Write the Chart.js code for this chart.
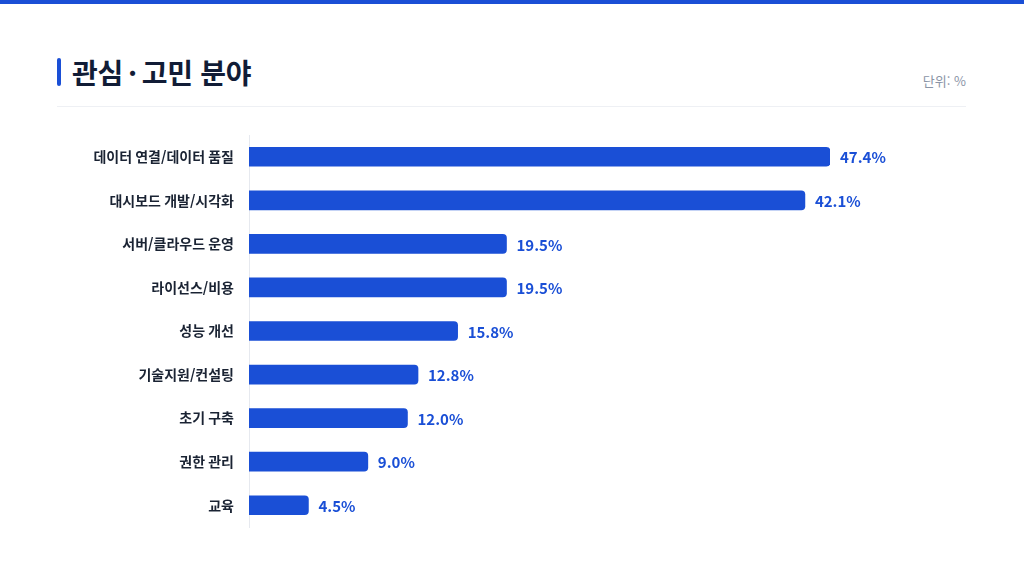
<!DOCTYPE html>
<html lang="ko">
<head>
<meta charset="utf-8">
<script src="https://cdn.jsdelivr.net/npm/chart.js@4"></script>
<style>
  html, body { margin:0; padding:0; background:#fff; }
  body { width:1024px; height:576px; position:relative; overflow:hidden; font-family:"Noto Sans CJK KR","Noto Sans",sans-serif; }
  .topbar { position:absolute; left:0; top:0; width:1024px; height:4px; background:#1a4fd6; }
  .accent { position:absolute; left:57px; top:58px; width:4px; height:28px; background:#1a4fd6; border-radius:2px; }
  .title { position:absolute; left:72px; top:52px; font-size:28px; font-weight:700; color:#111c36; line-height:40px; letter-spacing:-0.3px; }
  .title .dot { margin:0 5px; }
  .unit { position:absolute; right:58px; top:72px; font-size:13px; color:#8a94a6; line-height:18px; }
  .divider { position:absolute; left:57px; top:106px; width:909px; height:1px; background:#eef0f4; }
  .wrap { position:absolute; left:0; top:0; width:1024px; height:576px; }
</style>
</head>
<body>
<div class="topbar"></div>
<div class="accent"></div>
<div class="title">관심<span class="dot">·</span>고민 분야</div>
<div class="unit">단위: %</div>
<div class="divider"></div>
<div class="wrap"><canvas id="c"></canvas></div>
<script>
const categories = ["데이터 연결/데이터 품질","대시보드 개발/시각화","서버/클라우드 운영","라이선스/비용","성능 개선","기술지원/컨설팅","초기 구축","권한 관리","교육"];
const values = [47.4, 42.1, 19.5, 19.5, 15.8, 12.8, 12.0, 9.0, 4.5];
const axisMax = 44;
const barColor = "#1a4fd6";

const valueLabels = {
  id: "valueLabels",
  afterDatasetsDraw(chart) {
    const ctx = chart.ctx;
    const meta = chart.getDatasetMeta(0);
    ctx.save();
    ctx.font = "700 15px 'Noto Sans CJK KR', 'Noto Sans', sans-serif";
    ctx.fillStyle = barColor;
    ctx.textAlign = "left";
    ctx.textBaseline = "middle";
    meta.data.forEach((el, i) => {
      ctx.fillText(values[i].toFixed(1) + "%", el.x + 10, el.y + 1);
    });
    ctx.restore();
  }
};

new Chart(document.getElementById("c"), {
  type: "bar",
  data: {
    labels: categories,
    datasets: [{
      data: values.map(v => Math.min(v, axisMax)),
      backgroundColor: barColor,
      borderRadius: 4,
      borderSkipped: "start",
      barThickness: 19
    }]
  },
  options: {
    indexAxis: "y",
    responsive: true,
    maintainAspectRatio: false,
    animation: false,
    layout: { padding: { top: 135, bottom: 49, left: 0, right: 194 } },
    plugins: { legend: { display: false }, tooltip: { enabled: false } },
    scales: {
      x: { display: false, min: 0, max: axisMax },
      y: {
        afterFit(scale) { scale.width = 249; },
        grid: { display: true, color: "rgba(0,0,0,0)", drawTicks: false },
        border: { display: true, color: "#e6e9ef", width: 1 },
        ticks: {
          padding: 15,
          color: "#1a2333",
          font: { family: "'Noto Sans CJK KR', 'Noto Sans', sans-serif", size: 14, weight: "700" }
        }
      }
    }
  },
  plugins: [valueLabels]
});
</script>
</body>
</html>
